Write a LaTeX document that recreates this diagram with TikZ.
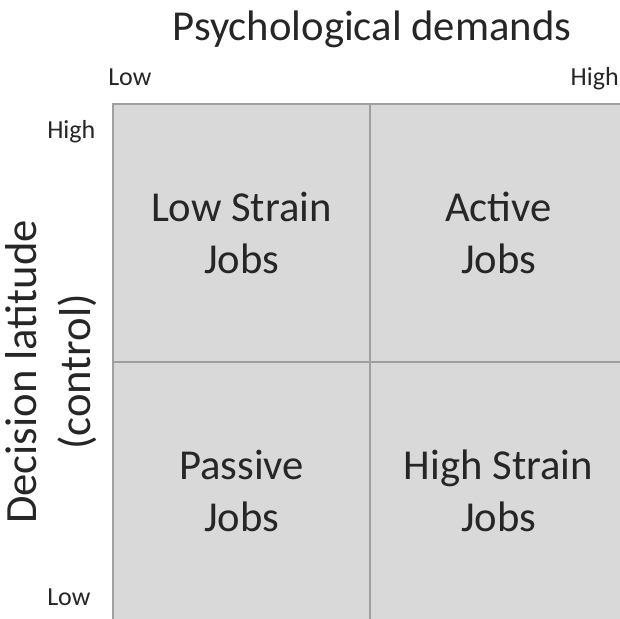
\documentclass[tikz,border=0pt]{standalone}
\usepackage{fontspec}
\setmainfont{Carlito}
\usetikzlibrary{positioning}
\definecolor{cellgray}{RGB}{217,217,217}
\definecolor{linegray}{RGB}{160,160,160}
\definecolor{inkgray}{RGB}{38,38,38}

\begin{document}
\begin{tikzpicture}[
  x=0.75pt, y=-0.75pt,
  text=inkgray,
  cell/.style={rectangle, draw=linegray, fill=cellgray, line width=2.2pt,
               minimum width=192.75pt, minimum height=193.5pt, align=center,
               font=\fontsize{32}{39}\selectfont},
  axis/.style={align=center, font=\fontsize{32}{39}\selectfont},
  tick/.style={font=\fontsize{19.5}{23}\selectfont, inner sep=0pt},
]
\useasboundingbox (0,0) rectangle (620,618);

% the four job types
\node[cell] (lowstrain)  at (241.5,233)   {Low Strain\\Jobs};
\node[cell] (active)     at (498.5,233)   {Active\\Jobs};
\node[cell] (passive)    at (241.5,491)   {Passive\\Jobs};
\node[cell] (highstrain) at (498.5,491)   {High Strain\\Jobs};

% axes
\node[axis, anchor=base] (demands) at (372,40) {Psychological demands};
\node[axis, rotate=90, font=\fontsize{33.5}{40}\selectfont] (latitude) at (51,372) {Decision latitude\\(control)};

\node[tick, anchor=base west] (dlow)  at (108,85)  {Low};
\node[tick, anchor=base east] (dhigh) at (619,85)  {High};
\node[tick, anchor=base west] (chigh) at (47,138)  {High};
\node[tick, anchor=base west] (clow)  at (47,605)  {Low};

\end{tikzpicture}
\end{document}
